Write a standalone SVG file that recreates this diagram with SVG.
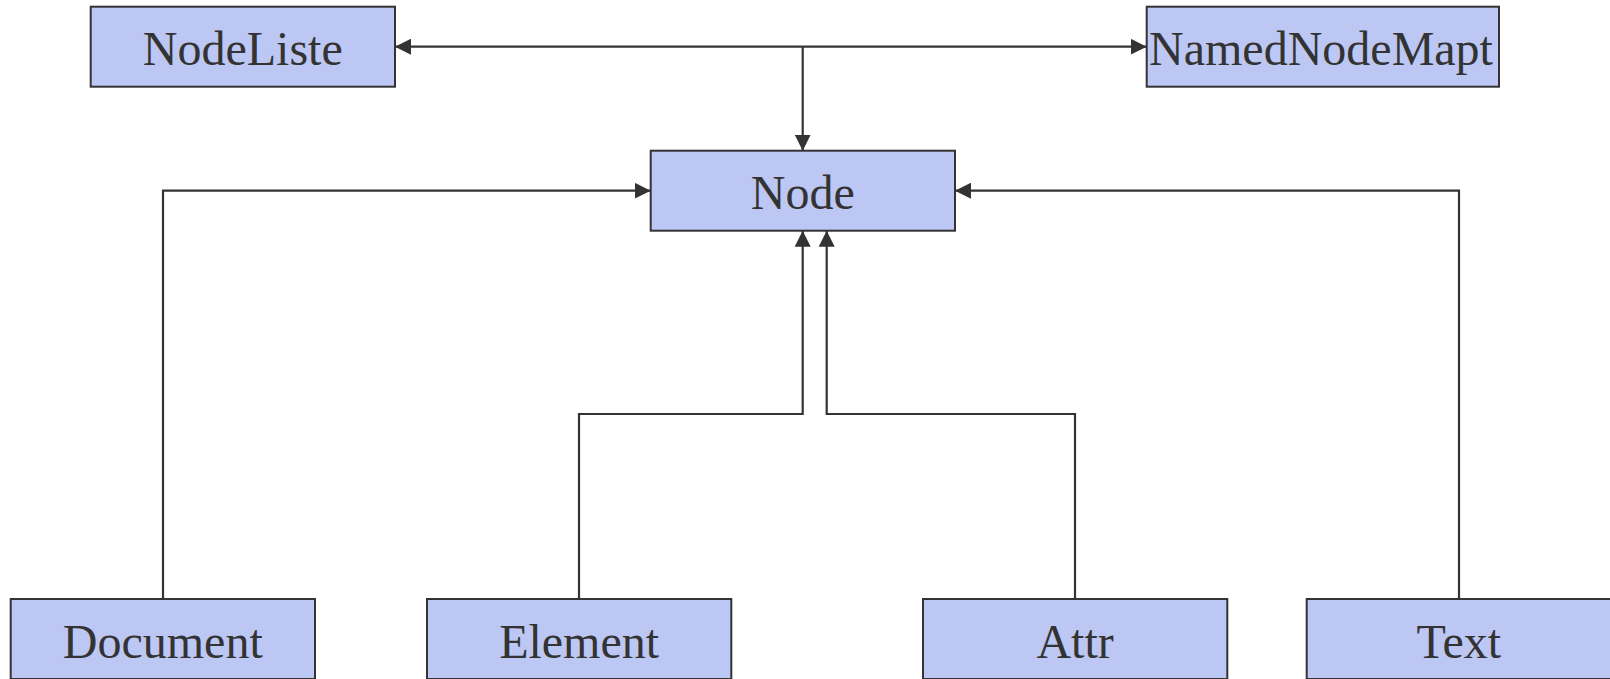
<svg xmlns="http://www.w3.org/2000/svg" width="1610" height="679" viewBox="0 0 1610 679">
<style>
.box{fill:#bcc7f4;stroke:#333;stroke-width:2}
.lbl{font-family:"Liberation Serif","Times New Roman",serif;font-size:48px;fill:#333;text-anchor:middle}
.edge{fill:none;stroke:#333;stroke-width:2.2}
</style>
<defs>
<marker id="arr" viewBox="0 0 16 16" refX="16" refY="8" markerWidth="16" markerHeight="16" markerUnits="userSpaceOnUse" orient="auto">
<path d="M0,0 L16,8 L0,16 z" fill="#333"/>
</marker>
</defs>
<g id="connectors">
<path class="edge" d="M802.7,46.7 H395" marker-end="url(#arr)"/>
<path class="edge" d="M802.7,46.7 H1146.7" marker-end="url(#arr)"/>
<path class="edge" d="M802.7,46.7 V150.7" marker-end="url(#arr)"/>
<path class="edge" d="M163,599 V190.7 H650.7" marker-end="url(#arr)"/>
<path class="edge" d="M579,599 V414 H802.7 V230.7" marker-end="url(#arr)"/>
<path class="edge" d="M1075,599 V414 H826.7 V230.7" marker-end="url(#arr)"/>
<path class="edge" d="M1459,599 V190.7 H955" marker-end="url(#arr)"/>
</g>
<g id="NodeListe"><rect class="box" x="90.7" y="6.7" width="304.3" height="80"/><text class="lbl" x="242.8" y="65.2">NodeListe</text></g>
<g id="NamedNodeMapt"><rect class="box" x="1146.7" y="6.7" width="352.3" height="80"/><text class="lbl" x="1321" y="65.2">NamedNodeMapt</text></g>
<g id="Node"><rect class="box" x="650.7" y="150.7" width="304.3" height="80"/><text class="lbl" x="802.8" y="209.2">Node</text></g>
<g id="Document"><rect class="box" x="10.7" y="599" width="304.3" height="80"/><text class="lbl" x="162.8" y="657.5">Document</text></g>
<g id="Element"><rect class="box" x="427" y="599" width="304.3" height="80"/><text class="lbl" x="579.1" y="657.5">Element</text></g>
<g id="Attr"><rect class="box" x="923" y="599" width="304.3" height="80"/><text class="lbl" x="1075.1" y="657.5">Attr</text></g>
<g id="Text"><rect class="box" x="1306.7" y="599" width="304.3" height="80"/><text class="lbl" x="1458.8" y="657.5">Text</text></g>
</svg>
